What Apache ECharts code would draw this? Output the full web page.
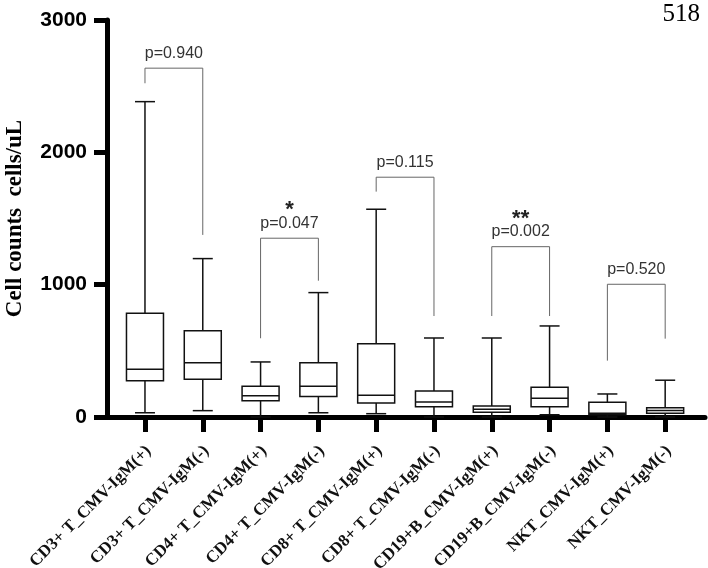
<!DOCTYPE html>
<html>
<head>
<meta charset="utf-8">
<script src="https://cdn.jsdelivr.net/npm/echarts@6/dist/echarts.min.js"></script>
<style>html,body{margin:0;padding:0;background:#fff;}#c{width:708px;height:568px;}</style>
</head>
<body>
<div id="c"></div>
<script>
const categories = ['CD3+ T_CMV-IgM(+)', 'CD3+ T_CMV-IgM(-)', 'CD4+ T_CMV-IgM(+)', 'CD4+ T_CMV-IgM(-)', 'CD8+ T_CMV-IgM(+)', 'CD8+ T_CMV-IgM(-)', 'CD19+B_CMV-IgM(+)', 'CD19+B_CMV-IgM(-)', 'NKT_CMV-IgM(+)', 'NKT_CMV-IgM(-)'];
const whiskerLow = [32, 48, 0, 32, 25, 0, 0, 17, 0, 0];
const q1 = [274, 286, 123, 154, 106, 78, 35, 78, 17, 28];
const median = [361, 410, 161, 232, 164, 113, 58, 141, 28, 50];
const q3 = [784, 652, 232, 410, 554, 197, 83, 224, 111, 70];
const whiskerHigh = [2383, 1197, 416, 940, 1570, 597, 597, 688, 174, 278];

const bracketLeft = [0, 2, 4, 6, 8];
const bracketRight = [1, 3, 5, 7, 9];
const bracketTop = [2636, 1351, 1812, 1287, 1003];
const bracketLeftEnd = [2522, 595, 1703, 763, 426];
const bracketRightEnd = [1376, 1030, 763, 763, 592];
const pLabels = ['p=0.940', 'p=0.047', 'p=0.115', 'p=0.002', 'p=0.520'];
const sigStars = ['', '*', '', '**', ''];

const yTicks = [0, 1000, 2000, 3000];
const pageNumber = '518';

const catIdx = categories.map((c, i) => i);
const boxData = categories.map((c, i) => [i, whiskerLow[i], q1[i], median[i], q3[i], whiskerHigh[i]]);
const bracketData = bracketLeft.map((l, i) => [l, bracketRight[i], bracketTop[i], bracketLeftEnd[i], bracketRightEnd[i], i]);

const chart = echarts.init(document.getElementById('c'), null, {renderer: 'canvas'});
const BOX_W = 37, CAP_W = 20, LC = '#111';

chart.setOption({
  animation: false,
  backgroundColor: '#fff',
  title: {
    text: pageNumber, right: 8, top: 2, padding: 0,
    textStyle: {fontFamily: 'Liberation Serif', fontWeight: 'normal', fontSize: 25, color: '#000'}
  },
  grid: {left: 107, right: 3, top: 20, bottom: 151, containLabel: false, outerBoundsMode: 'none'},
  xAxis: {
    type: 'value', min: -0.657, max: 9.689,
    splitLine: {show: false},
    axisLine: {show: true, onZero: false, lineStyle: {color: '#000', width: 5}},
    axisTick: {show: true, customValues: catIdx, length: 15, inside: false, lineStyle: {color: '#000', width: 5}},
    axisLabel: {
      customValues: catIdx, rotate: 45, margin: 35,
      padding: [0, -5, 0, 0],
      formatter: v => categories[Math.round(v)],
      fontFamily: 'Liberation Serif', fontWeight: 'bold', fontSize: 17, color: '#111'
    }
  },
  yAxis: {
    type: 'value', min: 0, max: 3000, interval: 1000,
    name: 'Cell counts  cells/uL', nameLocation: 'middle', nameGap: 80,
    nameTextStyle: {fontFamily: 'Liberation Serif', fontWeight: 'bold', fontSize: 23, color: '#000'},
    splitLine: {show: false},
    axisLine: {show: true, onZero: false, lineStyle: {color: '#000', width: 5}},
    axisTick: {show: true, length: 13, lineStyle: {color: '#000', width: 5}},
    axisLabel: {
      customValues: yTicks, margin: 20,
      formatter: v => String(v),
      fontFamily: 'Liberation Sans', fontWeight: 'bold', fontSize: 21, color: '#000'
    }
  },
  series: [
    {
      type: 'custom',
      data: boxData,
      encode: {x: 0, y: [1, 2, 3, 4, 5]},
      renderItem: function (params, api) {
        const i = api.value(0);
        const pLow = api.coord([i, api.value(1)]);
        const pQ1 = api.coord([i, api.value(2)]);
        const pMed = api.coord([i, api.value(3)]);
        const pQ3 = api.coord([i, api.value(4)]);
        const pHigh = api.coord([i, api.value(5)]);
        const x = pLow[0];
        const ls = {stroke: LC, lineWidth: 1.5, fill: null};
        return {
          type: 'group',
          children: [
            {type: 'line', shape: {x1: x, y1: pHigh[1], x2: x, y2: pQ3[1]}, style: ls},
            {type: 'line', shape: {x1: x, y1: pQ1[1], x2: x, y2: pLow[1]}, style: ls},
            {type: 'line', shape: {x1: x - CAP_W / 2, y1: pHigh[1], x2: x + CAP_W / 2, y2: pHigh[1]}, style: ls},
            {type: 'line', shape: {x1: x - CAP_W / 2, y1: pLow[1], x2: x + CAP_W / 2, y2: pLow[1]}, style: ls},
            {type: 'rect', shape: {x: x - BOX_W / 2, y: pQ3[1], width: BOX_W, height: pQ1[1] - pQ3[1]}, style: {stroke: LC, lineWidth: 1.5, fill: '#fff'}},
            {type: 'line', shape: {x1: x - BOX_W / 2, y1: pMed[1], x2: x + BOX_W / 2, y2: pMed[1]}, style: ls}
          ]
        };
      }
    },
    {
      type: 'custom',
      data: bracketData,
      encode: {x: [0, 1], y: [2, 3, 4]},
      renderItem: function (params, api) {
        const l = api.value(0), r = api.value(1);
        const pl = api.coord([l, api.value(2)]);
        const pr = api.coord([r, api.value(2)]);
        const plEnd = api.coord([l, api.value(3)]);
        const prEnd = api.coord([r, api.value(4)]);
        const k = api.value(5);
        const cx = (pl[0] + pr[0]) / 2;
        const children = [
          {type: 'polyline', shape: {points: [[plEnd[0], plEnd[1]], [pl[0], pl[1]], [pr[0], pr[1]], [prEnd[0], prEnd[1]]]},
           style: {stroke: '#666', lineWidth: 1, fill: null}},
          {type: 'text', x: cx, y: pl[1] - 15,
           style: {text: pLabels[k], align: 'center', verticalAlign: 'middle', fontFamily: 'Liberation Sans', fontSize: 16, fill: '#333'}}
        ];
        if (sigStars[k]) {
          children.push({type: 'text', x: cx, y: pl[1] - 28,
            style: {text: sigStars[k], align: 'center', verticalAlign: 'middle', fontFamily: 'Liberation Sans', fontWeight: 'bold', fontSize: 22, fill: '#222'}});
        }
        return {type: 'group', children: children};
      }
    }
  ]
});
</script>
</body>
</html>
